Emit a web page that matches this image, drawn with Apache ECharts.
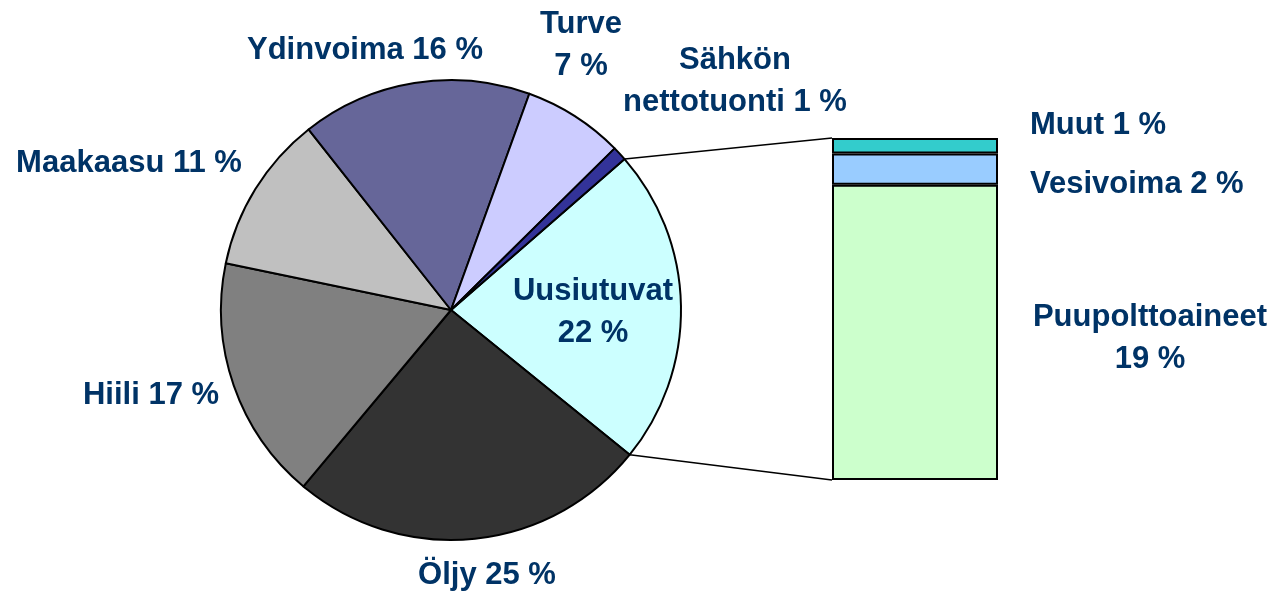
<!DOCTYPE html>
<html>
<head>
<meta charset="utf-8">
<script src="https://cdn.jsdelivr.net/npm/echarts@6/dist/echarts.min.js"></script>
<style>
  html, body { margin: 0; padding: 0; background: #fff; }
  #main { width: 1278px; height: 594px; }
</style>
</head>
<body>
<div id="main"></div>
<script>
// piirakan osuudet (%)
var pieNames = ['Uusiutuvat', 'Öljy', 'Hiili', 'Maakaasu', 'Ydinvoima', 'Turve', 'Sähkön nettotuonti'];
var pieValues = [22, 25, 17, 11, 16, 7, 1];
var pieLabels = ['Uusiutuvat\n22 %', 'Öljy 25 %', 'Hiili 17 %', 'Maakaasu 11 %', 'Ydinvoima 16 %', 'Turve\n7 %', 'Sähkön\nnettotuonti 1 %'];

// uusiutuvien erittely pylväässä (%)
var barNames = ['Puupolttoaineet', 'Vesivoima', 'Muut'];
var barValues = [19, 2, 1];
var barLabels = ['Puupolttoaineet\n19 %', 'Vesivoima 2 %', 'Muut 1 %'];

// ulkoasu
var pieColors = ['#CCFFFF', '#333333', '#808080', '#C0C0C0', '#666699', '#CCCCFF', '#333399'];
var barColors = ['#CCFFCC', '#99CCFF', '#33CCCC'];
var pieLabelPos = [[593, 312], [487, 575], [151, 395], [129, 163], [365, 50], [581, 45], [735, 81]];
var barLabelPos = [[1150, 338, 'center'], [1030, 184, 'left'], [1030, 125, 'left']];
var cx = 451, cy = 310, r = 230;
var gridLeft = 832, gridTop = 138, gridW = 166, gridH = 342;
var startAngle = 41;

var textStyle = {
    color: '#003366',
    fontFamily: 'Liberation Sans, Arial, sans-serif',
    fontWeight: 'bold',
    fontSize: 31,
    lineHeight: 42
};

var myChart = echarts.init(document.getElementById('main'));

var pieData = pieNames.map(function (n, i) {
    return { name: n, value: pieValues[i], itemStyle: { color: pieColors[i] } };
});

var barTotal = barValues.reduce(function (a, b) { return a + b; }, 0);

var barSeries = barNames.map(function (n, i) {
    return {
        name: n,
        type: 'bar',
        stack: 'uusiutuvat',
        barWidth: '100%',
        data: [barValues[i]],
        itemStyle: { color: barColors[i], borderColor: '#000', borderWidth: 2 },
        label: Object.assign({ show: true, formatter: barLabels[i] }, textStyle),
        labelLayout: function () {
            var p = barLabelPos[i];
            return { x: p[0], y: p[1], align: p[2], verticalAlign: 'middle' };
        },
        silent: true
    };
});

var option = {
    animation: false,
    grid: { left: gridLeft, top: gridTop, width: gridW, height: gridH, containLabel: false },
    xAxis: { type: 'category', data: ['x'], show: false },
    yAxis: { type: 'value', min: 0, max: barTotal, show: false },
    series: [{
        name: 'Energia',
        type: 'pie',
        center: [cx, cy],
        radius: r,
        startAngle: startAngle,
        clockwise: true,
        avoidLabelOverlap: false,
        silent: true,
        data: pieData,
        itemStyle: { borderColor: '#000', borderWidth: 2 },
        label: Object.assign({
            show: true,
            position: 'outside',
            formatter: function (p) { return pieLabels[p.dataIndex]; }
        }, textStyle),
        labelLine: { show: false },
        labelLayout: function (params) {
            var p = pieLabelPos[params.dataIndex];
            return { x: p[0], y: p[1], align: 'center', verticalAlign: 'middle' };
        }
    }].concat(barSeries)
};

myChart.setOption(option);

// yhdysviivat piirakasta pylvääseen
var pieTotal = pieValues.reduce(function (a, b) { return a + b; }, 0);
var a1 = startAngle * Math.PI / 180;
var a2 = (startAngle - pieValues[0] / pieTotal * 360) * Math.PI / 180;
var topPx = myChart.convertToPixel({ gridIndex: 0 }, [0, barTotal]);
var botPx = myChart.convertToPixel({ gridIndex: 0 }, [0, 0]);
var barLeft = topPx[0] - gridW / 2;

myChart.setOption({
    graphic: [
        {
            type: 'line', silent: true,
            shape: { x1: cx + r * Math.cos(a1), y1: cy - r * Math.sin(a1), x2: barLeft, y2: topPx[1] },
            style: { stroke: '#000', lineWidth: 1.5 }
        },
        {
            type: 'line', silent: true,
            shape: { x1: cx + r * Math.cos(a2), y1: cy - r * Math.sin(a2), x2: barLeft, y2: botPx[1] },
            style: { stroke: '#000', lineWidth: 1.5 }
        }
    ]
});
</script>
</body>
</html>
